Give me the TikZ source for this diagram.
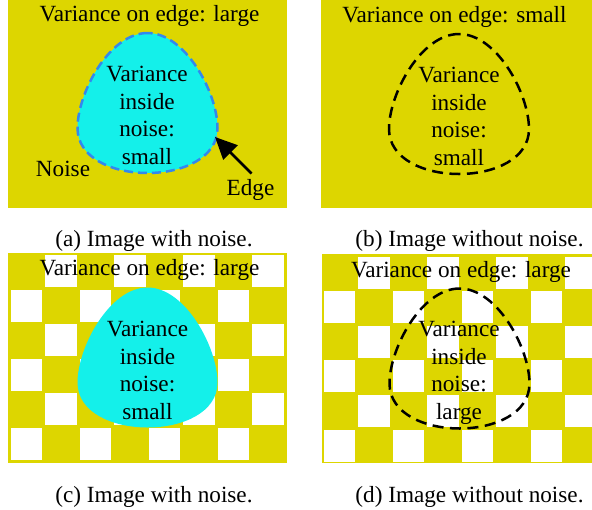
\documentclass[tikz,border=0pt]{standalone}
\usepackage{fontspec}
\setmainfont{Liberation Serif}
\usetikzlibrary{arrows.meta}
\definecolor{noiseyellow}{RGB}{221,214,0}
\definecolor{regioncyan}{RGB}{20,240,234}
\definecolor{edgeblue}{RGB}{51,136,238}
\tikzset{
  paneltext/.style={font=\fontsize{23.2}{27.7}\selectfont, inner sep=0pt},
  titletext/.style={paneltext, anchor=base},
  regiontext/.style={paneltext, align=center, anchor=north},
  captiontext/.style={paneltext, anchor=base},
  panel/.style={fill=noiseyellow},
  region/.style={fill=regioncyan},
  blueedge/.style={draw=edgeblue, line width=2.5pt, dash pattern=on 9pt off 5pt},
  blackedge/.style={draw=black, line width=2.5pt, dash pattern=on 11pt off 6.5pt},
  pointer/.style={line width=2.8pt, -{Triangle[length=22pt,width=20pt]}},
  pics/blob/.style={code={
    \path[pic actions] (0,-70) .. controls (-38,-70) and (-70,-10) .. (-70,25)
      .. controls (-70,55) and (-35,70) .. (0,70)
      .. controls (35,70) and (70,55) .. (70,25)
      .. controls (70,-10) and (38,-70) .. (0,-70) -- cycle;
  }},
}
% white squares of a checkerboard; #1,#2 = corner of the first cell's square
\newcommand{\checkerboard}[2]{%
  \foreach \i in {0,...,7}{%
    \foreach \j in {0,...,5}{%
      \pgfmathtruncatemacro{\parity}{mod(\i+\j,2)}%
      \ifnum\parity=1
        \fill[white] ({#1+34.5*\i},{#2+34.6*\j}) rectangle +(31.6,32);
      \fi
    }%
  }%
}
\begin{document}
\begin{tikzpicture}[x=1pt,y=-1pt]
\useasboundingbox (0,0) rectangle (592,509);
\clip (0,0) rectangle (592,509);

% ---- (a) image with noise, smooth background
\fill[panel] (7.5,-5) rectangle (287,208);
\pic[region] at (147.5,103) {blob};
\pic[blueedge] at (147.5,103) {blob};
\node[titletext] (ta) at (149.5,21) {Variance on edge: large};
\node[regiontext] (ra) at (147,66) {Variance\\inside\\noise:\\small};
\node[titletext] (noiselabel) at (63,176.7) {Noise};
\node[titletext] (edgelabel) at (250.5,195) {Edge};
\coordinate (edgetail) at (251.5,173.5);
\coordinate (edgetip) at (215,137);
\draw[pointer] (edgetail) -- (edgetip);

% ---- (b) image without noise, smooth background
\fill[panel] (321,-5) rectangle (600,208);
\pic[blackedge] at (459,104) {blob};
\node[titletext] (tb) at (454.5,22) {Variance on edge: small};
\node[regiontext] (rb) at (459,67) {Variance\\inside\\noise:\\small};

% ---- (c) image with noise, checkerboard background
\fill[panel] (7.5,252.5) rectangle (287,462.7);
\checkerboard{10.7}{255}
\pic[region] at (147.5,357.5) {blob};
\node[titletext] (tc) at (149.5,275.7) {Variance on edge: large};
\node[regiontext] (rc) at (147.5,321) {Variance\\inside\\noise:\\small};

% ---- (d) image without noise, checkerboard background
\fill[panel] (321.5,253.5) rectangle (601,462.7);
\checkerboard{323.5}{256.5}
\pic[blackedge] at (459.5,358.5) {blob};
\node[titletext] (td) at (461,277.3) {Variance on edge: large};
\node[regiontext] (rd) at (459,321) {Variance\\inside\\noise:\\large};

% ---- sub-captions
\node[captiontext] (capa) at (154,246.7) {(a) Image with noise.};
\node[captiontext] (capb) at (469.5,246.7) {(b) Image without noise.};
\node[captiontext] (capc) at (154,502) {(c) Image with noise.};
\node[captiontext] (capd) at (469.5,502) {(d) Image without noise.};
\end{tikzpicture}
\end{document}
